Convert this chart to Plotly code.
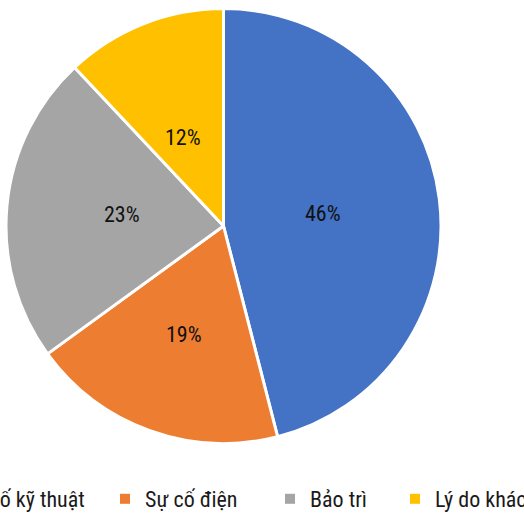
import math
import plotly.graph_objects as go

categories = ["Sự cố kỹ thuật", "Sự cố điện", "Bảo trì", "Lý do khác"]
values = [46, 19, 23, 12]
colors = ["#4472C4", "#ED7D31", "#A5A5A5", "#FFC000"]

W, H = 524, 515
FONT = "Roboto Condensed"

# pie geometry (pixels)
CX, CY, R = 223.5, 226.0, 217.5
label_r = [0.46, 0.53, 0.56, 0.51]  # radial position of labels (fraction of radius)

fig = go.Figure()
fig.add_trace(go.Pie(
    labels=categories, values=values, sort=False, direction="clockwise", rotation=0,
    marker=dict(colors=colors, line=dict(color="white", width=3)),
    textinfo="none", showlegend=False, hoverinfo="label+percent",
    domain=dict(x=[(CX - R) / W, (CX + R) / W], y=[1 - (CY + R) / H, 1 - (CY - R) / H]),
))

# percentage labels placed at each slice's mid-angle
total = sum(values)
cum = 0
for v, rf in zip(values, label_r):
    mid = (cum + v / 2) / total * 2 * math.pi
    cum += v
    px = CX + rf * R * math.sin(mid)
    py = CY - rf * R * math.cos(mid)
    fig.add_annotation(
        x=px / W, y=1 - py / H, xref="paper", yref="paper",
        text=f"{round(v / total * 100)}%", showarrow=False,
        font=dict(family=FONT, size=22, color="#111111"),
    )

# legend entries, one legend per item (text start positions, pixels)
text_starts = [-39, 145, 310, 435]
for i, (c, col) in enumerate(zip(categories, colors)):
    lname = "legend" if i == 0 else f"legend{i+1}"
    fig.add_trace(go.Scatter(
        x=[None], y=[None], mode="markers", name=c,
        marker=dict(symbol="square", size=10, color=col),
        legend=lname, showlegend=True, hoverinfo="skip",
    ))
    fig.update_layout(**{lname: dict(
        x=(text_starts[i] - 40) / W, y=1 - 499 / H,
        xref="paper", yref="paper", xanchor="left", yanchor="middle",
        orientation="h", font=dict(family=FONT, size=22, color="#1a1a1a"),
        bgcolor="rgba(0,0,0,0)", borderwidth=0,
    )})

fig.update_layout(
    width=W, height=H,
    margin=dict(l=0, r=0, t=0, b=0, autoexpand=False),
    paper_bgcolor="white", plot_bgcolor="white",
    xaxis=dict(visible=False), yaxis=dict(visible=False),
)
fig.write_html(
    "out.html",
    config={"displayModeBar": False},
    post_script="document.body.style.margin='0';document.body.style.overflow='hidden';",
)
